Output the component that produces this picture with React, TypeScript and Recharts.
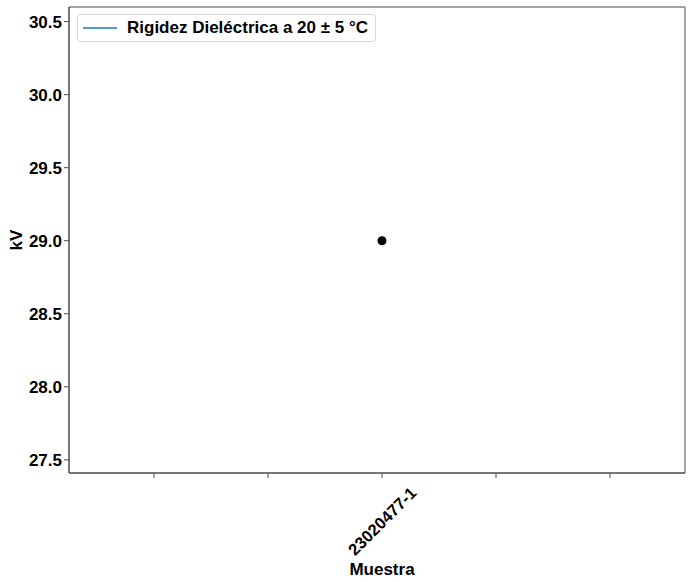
import React from 'react';
import {
  LineChart,
  Line,
  XAxis,
  YAxis,
  Legend,
  ReferenceArea,
} from 'recharts';

// data
const muestras = ['23020477-1'];
const kv = [29.0];
const yTicks = [27.5, 28.0, 28.5, 29.0, 29.5, 30.0, 30.5];
const xTicks = [-2, -1, 0, 1, 2];
const serieNombre = 'Rigidez Dieléctrica a 20 ± 5 °C';

const FONT = '"Liberation Sans", Arial, Helvetica, sans-serif';
const AXIS = '#4a4a4a';
const X_DOM: [number, number] = [-2.746, 2.658];
const Y_DOM: [number, number] = [27.41, 30.6];

const data = muestras.map((m, i) => ({ x: i, name: m, kv: kv[i] }));

const XTick = (props: any) => {
  const { x, y, payload } = props;
  const idx = payload.value;
  const text = Number.isInteger(idx) && idx >= 0 && idx < muestras.length ? muestras[idx] : '';
  if (!text) return null;
  const cy = y + 41;
  return (
    <text
      x={x}
      y={cy}
      textAnchor="middle"
      dominantBaseline="central"
      transform={`rotate(-45 ${x} ${cy})`}
      fontFamily={FONT}
      fontWeight="bold"
      fontSize={16.5}
      fill="#000"
    >
      {text}
    </text>
  );
};

const LegendBox = () => (
  <div
    style={{
      position: 'absolute',
      left: 77,
      top: 14,
      height: 28,
      boxSizing: 'border-box',
      border: '1px solid #d9d9d9',
      borderRadius: 3,
      background: '#fff',
      display: 'flex',
      alignItems: 'center',
      padding: '0 7px 0 5px',
      fontFamily: FONT,
      fontWeight: 'bold',
      fontSize: 17,
      color: '#000',
      whiteSpace: 'nowrap',
    }}
  >
    <svg width={34} height={4} style={{ marginRight: 10 }}>
      <line x1={0} y1={2} x2={34} y2={2} stroke="#1f77b4" strokeWidth={1.5} />
    </svg>
    {serieNombre}
  </div>
);

export default function App() {
  return (
    <div style={{ position: 'absolute', left: 0, top: 0, width: 690, height: 582, background: '#fff' }}>
      <LineChart
        width={690}
        height={582}
        data={data}
        margin={{ top: 7, right: 5, left: 0, bottom: 0 }}
      >
        <XAxis
          dataKey="x"
          type="number"
          domain={X_DOM}
          ticks={xTicks}
          interval={0}
          height={109}
          allowDataOverflow
          stroke={AXIS}
          tickSize={5}
          tick={<XTick />}
          label={({ viewBox }: any) => (
            <text
              x={viewBox.x + 313}
              y={575}
              textAnchor="middle"
              fontFamily={FONT}
              fontWeight="bold"
              fontSize={17}
              fill="#000"
            >
              Muestra
            </text>
          )}
        />
        <YAxis
          type="number"
          domain={Y_DOM}
          ticks={yTicks}
          interval={0}
          width={69}
          allowDataOverflow
          stroke={AXIS}
          tickSize={5}
          tickFormatter={(v: number) => v.toFixed(1)}
          tick={{ fill: '#000', fontFamily: FONT, fontWeight: 'bold', fontSize: 17 }}
          label={({ viewBox }: any) => {
            const cy = viewBox.y + viewBox.height / 2;
            return (
              <text
                x={16}
                y={cy}
                textAnchor="middle"
                dominantBaseline="central"
                transform={`rotate(-90 16 ${cy})`}
                fontFamily={FONT}
                fontWeight="bold"
                fontSize={17}
                fill="#000"
              >
                kV
              </text>
            );
          }}
        />
        <ReferenceArea
          x1={X_DOM[0]}
          x2={X_DOM[1]}
          y1={Y_DOM[0]}
          y2={Y_DOM[1]}
          fill="none"
          stroke={AXIS}
          strokeWidth={1}
          ifOverflow="visible"
        />
        <Legend content={<LegendBox />} wrapperStyle={{ position: 'absolute', left: 0, top: 0, width: 0, height: 0 }} />
        <Line
          dataKey="kv"
          name={serieNombre}
          stroke="#1f77b4"
          strokeWidth={1.5}
          dot={{ r: 4.5, fill: '#000', stroke: '#000', strokeWidth: 0 }}
          isAnimationActive={false}
        />
      </LineChart>
    </div>
  );
}
